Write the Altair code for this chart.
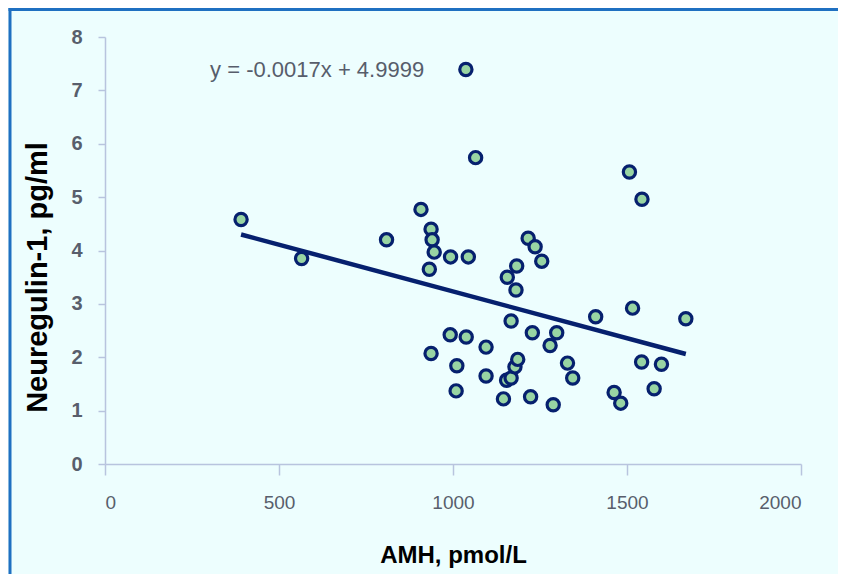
import altair as alt
import pandas as pd

# ---- data ----
amh = [391, 565, 809, 908, 937, 940, 946, 932, 993, 1044,
       1037, 1065, 937, 992, 1038, 1011, 1009, 1095, 1095, 1145,
       1154, 1167, 1178, 1186, 1223, 1288, 1216, 1236, 1255, 1183,
       1156, 1181, 1167, 1228, 1298, 1279, 1329, 1344, 1410, 1516,
       1669, 1507, 1543, 1542, 1599, 1463, 1482, 1578]
nrg = [4.58, 3.85, 4.20, 4.77, 4.40, 4.20, 3.97, 3.65, 3.88, 3.88,
       7.39, 5.74, 2.07, 2.42, 2.38, 1.84, 1.37, 2.19, 1.65, 1.22,
       1.57, 1.61, 1.82, 1.96, 1.26, 1.11, 4.23, 4.07, 3.80, 3.71,
       3.50, 3.26, 2.68, 2.46, 2.46, 2.22, 1.89, 1.61, 2.76, 2.92,
       2.72, 5.47, 4.96, 1.91, 1.87, 1.34, 1.14, 1.41]

trend_x = [391, 1669]
trend_y = [4.30, 2.06]

eq_text = ["y = -0.0017x + 4.9999"]
eq_x = [302]
eq_y = [7.25]

x_ticks = [0, 500, 1000, 1500, 2000]
y_ticks = [0, 1, 2, 3, 4, 5, 6, 7, 8]

FONT = "Liberation Sans"
LABEL_COLOR = "#585e6c"
AXIS_COLOR = "#b8c4de"
NAVY = "#06206e"
FRAME = "#1f70c1"

pts = pd.DataFrame({"AMH": amh, "NRG": nrg})
trend = pd.DataFrame({"AMH": trend_x, "NRG": trend_y})
eq = pd.DataFrame({"AMH": eq_x, "NRG": eq_y, "label": eq_text})
one = pd.DataFrame({"a": [0]})

xs = alt.Scale(domain=[0, 2000], nice=False, zero=False)
ys = alt.Scale(domain=[0, 8], nice=False)

x_axis = alt.Axis(
    values=x_ticks, format="d", title="AMH, pmol/L", grid=False,
    tickSize=11, tickWidth=1.5, tickColor=AXIS_COLOR,
    domainColor=AXIS_COLOR, domainWidth=1.5,
    labelFont=FONT, labelFontSize=19, labelColor=LABEL_COLOR, labelPadding=18,
    titleFont=FONT, titleFontSize=24, titleFontWeight="bold", titleColor="#000000",
    titleBaseline="alphabetic", titleY=98, titleX=348, titleAlign="center",
)
y_axis = alt.Axis(
    values=y_ticks, format="d", title="Neuregulin-1, pg/ml", grid=False,
    tickSize=7, tickWidth=1.5, tickColor=AXIS_COLOR,
    domainColor=AXIS_COLOR, domainWidth=1.5,
    labelFont=FONT, labelFontSize=20, labelFontWeight="bold",
    labelColor=LABEL_COLOR, labelPadding=16,
    titleFont=FONT, titleFontSize=29, titleFontWeight="bold", titleColor="#000000",
    titleAngle=270, titleBaseline="middle", titleAlign="center",
    titleX=-68, titleY=240,
)

points = alt.Chart(pts).mark_circle(
    size=150, fill="#98d4a3", stroke=NAVY, strokeWidth=3.2, opacity=1
).encode(
    x=alt.X("AMH:Q", scale=xs, axis=x_axis),
    y=alt.Y("NRG:Q", scale=ys, axis=y_axis),
)

line = alt.Chart(trend).mark_line(color=NAVY, strokeWidth=4.5).encode(
    x=alt.X("AMH:Q", scale=xs), y=alt.Y("NRG:Q", scale=ys)
)

label = alt.Chart(eq).mark_text(
    align="left", baseline="alphabetic", font=FONT, fontSize=22, color="#575d6b"
).encode(
    x=alt.X("AMH:Q", scale=xs), y=alt.Y("NRG:Q", scale=ys), text="label:N"
)

frame_left = alt.Chart(one).mark_rule(color=FRAME, strokeWidth=3).encode(
    x=alt.value(-95), y=alt.value(-29), y2=alt.value(600)
)
frame_top = alt.Chart(one).mark_rule(color=FRAME, strokeWidth=3).encode(
    x=alt.value(-96.5), x2=alt.value(800), y=alt.value(-27.5)
)

chart = alt.layer(points, line, label, frame_left, frame_top).properties(
    width=696, height=427,
    padding={"left": 97, "top": 29, "right": 37, "bottom": 110},
    autosize=alt.AutoSizeParams(type="none"),
).configure(background="#edfefe").configure_view(stroke=None)

chart.save("out.html", embed_options={"renderer": "svg", "actions": False})
